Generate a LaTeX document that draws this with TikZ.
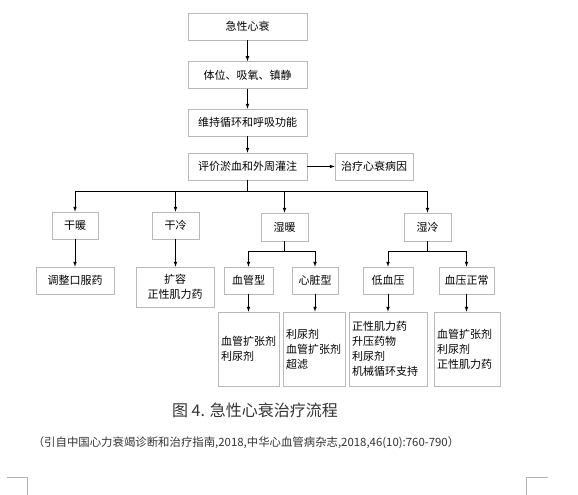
\documentclass[tikz,border=0pt]{standalone}
\usepackage{fontspec}
\newfontfamily\cjk{Noto Sans CJK SC}
\usetikzlibrary{arrows}

\begin{document}
\begin{tikzpicture}[x=1pt,y=-1pt,->,>=latex,line width=0.7pt,
				main node/.style={draw=gray!55,fill=white,minimum height=27pt,
					inner sep=1pt,font=\cjk\fontsize{11}{15}\selectfont},
				drug node/.style={main node,minimum height=74pt,align=left,inner sep=3pt}]
				\useasboundingbox (0,0) rectangle (578,495);
				
				\node[main node,minimum width=119pt] (A) at (247.5,26.5) {急性心衰};
				\node[main node,minimum width=119pt] (B) at (247.5,75) {体位、吸氧、镇静};
				\node[main node,minimum width=119pt] (C) at (247.5,122.5) {维持循环和呼吸功能};
				\node[main node,minimum width=119pt] (D) at (247.5,166.5) {评价淤血和外周灌注};
				\node[main node,minimum width=78pt] (E) at (374,166.5) {治疗心衰病因};
				\node[main node,minimum width=46pt] (F) at (75,225.5) {干暖};
				\node[main node,minimum width=47pt] (G) at (175.5,225.5) {干冷};
				\node[main node,minimum width=47pt,minimum height=28pt] (H) at (284.5,227) {湿暖};
				\node[main node,minimum width=47pt,minimum height=28pt] (I) at (427.5,227) {湿冷};
				\node[main node,minimum width=78pt] (J) at (75,280.5) {调整口服药};
				\node[main node,minimum width=78pt,minimum height=40pt,align=center] (K) at (175,287) {扩容\\正性肌力药};
				\node[main node,minimum width=49pt] (L) at (248.5,280.5) {血管型};
				\node[main node,minimum width=46pt] (M) at (315,280.5) {心脏型};
				\node[main node,minimum width=50pt] (N) at (388,280.5) {低血压};
				\node[main node,minimum width=55pt] (O) at (466.5,280.5) {血压正常};
				\node[drug node,text width=55pt] (P) at (248.5,349) {血管扩张剂\\利尿剂};
				\node[drug node,text width=56pt] (Q) at (314,349) {利尿剂\\血管扩张剂\\超滤};
				\node[drug node,text width=72pt] (R) at (388,349) {正性肌力药\\升压药物\\利尿剂\\机械循环支持};
				\node[drug node,text width=60pt] (S) at (467,349) {血管扩张剂\\利尿剂\\正性肌力药};
				
				\draw (A) -- (B);
				\draw (B) -- (C);
				\draw (C) -- (D);
				\draw (D) -- (E);
				\draw (D.south) -- ++(0,11) -| (F.north);
				\draw (D.south) -- ++(0,11) -| (G.north);
				\draw (D.south) -- ++(0,11) -| (H.north);
				\draw (D.south) -- ++(0,11) -| (I.north);
				\draw (F) -- (J);
				\draw (G.south) -- (G.south |- K.north);
				\draw (H.south) -- ++(0,10) -| (L.north);
				\draw (H.south) -- ++(0,10) -| (M.north);
				\draw (I.south) -- ++(0,10) -| (N.north);
				\draw (I.south) -- ++(0,10) -| (O.north);
				\draw (L.south) -- (L.south |- P.north);
				\draw (M.south) -- (M.south |- Q.north);
				\draw (N.south) -- (N.south |- R.north);
				\draw (O.south) -- (O.south |- S.north);
				
				\node[font=\cjk\fontsize{16}{19}\selectfont,text=black!80] (T) at (255,410) {图 4. 急性心衰治疗流程};
				\node[font=\cjk\fontsize{11.4}{13}\selectfont,text=black!80] (U) at (246,443)
					{（引自中国心力衰竭诊断和治疗指南,2018,中华心血管病杂志,2018,46(10):760-790）};
				% page corner marks
				\draw[-,gray!60,line width=0.6pt] (7,477) -- (27,477) -- (27,495);
				\draw[-,gray!60,line width=0.6pt] (526,495) -- (526,477) -- (548,477);
			\end{tikzpicture}
\end{document}
